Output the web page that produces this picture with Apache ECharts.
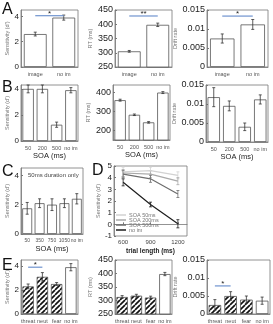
<!DOCTYPE html>
<html>
<head>
<meta charset="utf-8">
<script src="https://cdn.jsdelivr.net/npm/echarts@6/dist/echarts.min.js"></script>
<style>
  html, body { margin: 0; padding: 0; background: #fff; }
  #chart { width: 273px; height: 324px; }
</style>
</head>
<body>
<div id="chart"></div>
<script>
// ---- data ----
const catsA = ["image", "no im"];
const sensA = [2.6, 3.9];
const sensAErr = [0.15, 0.2];
const rtA = [305, 398];
const rtAErr = [3, 6];
const driftA = [0.0075, 0.0112];
const driftAErr = [0.0012, 0.0013];

const catsB = ["50", "200", "500", "no im"];
const sensB = [4.0, 4.0, 1.25, 3.9];
const sensBErr = [0.3, 0.3, 0.2, 0.2];
const rtB = [360, 283, 243, 400];
const rtBErr = [5, 4, 4, 5];
const driftB = [0.0118, 0.0095, 0.004, 0.0112];
const driftBErr = [0.0025, 0.0013, 0.001, 0.0012];

const catsC = ["50", "350", "750", "1050", "no im"];
const sensC = [1.75, 2.1, 2.0, 2.1, 2.4];
const sensCErr = [0.4, 0.3, 0.4, 0.3, 0.35];

const trialLen = [600, 900, 1200];
const dSoa50 = [4.5, 4.6, 4.2];
const dSoa200 = [4.4, 4.3, 3.7];
const dSoa500 = [4.3, 3.9, 2.6];
const dNoIm = [3.6, 1.7, 0.05];
const dSoa50Err = [0.4, 0.3, 0.3];
const dSoa200Err = [0.3, 0.3, 0.3];
const dSoa500Err = [0.3, 0.3, 0.3];
const dNoImErr = [0.3, 0.2, 0.35];

const catsE = ["threat", "neut", "fear", "no im"];
const sensE = [2.3, 3.1, 2.5, 3.9];
const sensEErr = [0.2, 0.35, 0.12, 0.3];
const rtE = [313, 318, 311, 398];
const rtEErr = [5, 5, 5, 6];
const driftE = [0.0025, 0.005, 0.004, 0.0037];
const driftEErr = [0.0015, 0.0012, 0.001, 0.001];

const sensTicks = [0, 2, 4];
const rtTicks = [250, 300, 350, 400, 450];
const rtTicksB = [200, 300, 400];
const driftTicks = [0, 0.005, 0.01, 0.015];
const dTicks = [-1, 0, 1, 2, 3, 4, 5];
const trialTicks = [600, 900, 1200];

// ---- helpers ----
const FONT = "Liberation Sans, Arial, sans-serif";
const chart = echarts.init(document.getElementById("chart"));

// diagonal hatch pattern
function hatch() {
  const s = 5;
  const c = document.createElement("canvas");
  c.width = s; c.height = s;
  const ctx = c.getContext("2d");
  ctx.fillStyle = "#fff";
  ctx.fillRect(0, 0, s, s);
  ctx.strokeStyle = "#111";
  ctx.lineWidth = 1.7;
  [-s, 0, s].forEach(o => {
    ctx.beginPath();
    ctx.moveTo(o, s);
    ctx.lineTo(o + s, 0);
    ctx.stroke();
  });
  return { image: c, repeat: "repeat" };
}
const hatchFill = hatch();

const grids = [];
const xAxes = [];
const yAxes = [];
const series = [];

function errRender(color) {
  return function (params, api) {
    const x = api.value(0), y = api.value(1), e = api.value(2);
    const t = api.coord([x, y + e]);
    const b = api.coord([x, y - e]);
    const st = { stroke: color, lineWidth: 0.8 };
    return {
      type: "group",
      children: [
        { type: "line", shape: { x1: t[0], y1: t[1], x2: b[0], y2: b[1] }, style: st },
        { type: "line", shape: { x1: t[0] - 1.5, y1: t[1], x2: t[0] + 1.5, y2: t[1] }, style: st },
        { type: "line", shape: { x1: b[0] - 1.5, y1: b[1], x2: b[0] + 1.5, y2: b[1] }, style: st }
      ]
    };
  };
}

function sigRender(label) {
  return function (params, api) {
    const p1 = api.coord([api.value(0), api.value(2)]);
    const p2 = api.coord([api.value(1), api.value(2)]);
    return {
      type: "group",
      children: [
        { type: "line", shape: { x1: p1[0], y1: p1[1], x2: p2[0], y2: p2[1] },
          style: { stroke: "#6f93cf", lineWidth: 1.2 } },
        { type: "text", style: { text: label, x: (p1[0] + p2[0]) / 2, y: p1[1] + 2,
          align: "center", verticalAlign: "bottom", fontSize: 8, fill: "#222", font: "8px " + FONT } }
      ]
    };
  };
}

function yAxisDef(gi, min, max, ticks, name, labelSize) {
  return {
    gridIndex: gi, type: "value", min: min, max: max,
    name: name, nameLocation: "middle", nameGap: labelSize > 8 ? 22 : 10,
    nameTextStyle: { fontSize: 5.5, color: "#777", fontFamily: FONT },
    axisLine: { show: true, lineStyle: { color: "#777", width: 0.8 } },
    axisTick: { show: true, inside: true, length: 2, customValues: ticks, lineStyle: { color: "#777" } },
    axisLabel: { customValues: ticks, fontSize: labelSize, color: "#222", margin: 2, fontFamily: FONT },
    splitLine: { show: false }
  };
}

function barPanel(gi, box, cats, vals, errs, yMin, yMax, ticks, yName, opts) {
  opts = opts || {};
  grids.push(Object.assign({ show: true, borderColor: "#777", borderWidth: 0.8, backgroundColor: "transparent" }, box));
  xAxes.push({
    gridIndex: gi, type: "category", data: cats,
    name: opts.xName || "", nameLocation: "middle", nameGap: 11,
    nameTextStyle: { fontSize: 7.5, color: "#222", fontFamily: FONT },
    axisLine: { lineStyle: { color: "#777", width: 0.8 } },
    axisTick: { show: false },
    axisLabel: { fontSize: opts.xLabelSize || 5.5, color: "#555", margin: 4, interval: 0, fontFamily: FONT }
  });
  yAxes.push(yAxisDef(gi, yMin, yMax, ticks, yName, opts.labelSize || 8));
  series.push({
    type: "bar", xAxisIndex: gi, yAxisIndex: gi, barCategoryGap: "20%",
    data: vals.map((v, i) => ({
      value: v,
      itemStyle: { color: (opts.hatched && i < vals.length - 1) ? hatchFill : "#fff" }
    })),
    itemStyle: { borderColor: "#555", borderWidth: 0.8 },
    silent: true
  });
  series.push({
    type: "custom", xAxisIndex: gi, yAxisIndex: gi,
    renderItem: errRender("#333"),
    encode: { x: 0, y: 1 },
    data: vals.map((v, i) => [i, v, errs[i]]),
    silent: true, z: 5
  });
  if (opts.sig) {
    series.push({
      type: "custom", xAxisIndex: gi, yAxisIndex: gi,
      renderItem: sigRender(opts.sig.label),
      encode: { x: [0, 1], y: 2 },
      data: [[opts.sig.from, opts.sig.to, opts.sig.y]],
      silent: true, z: 6
    });
  }
}

// ---- row A ----
barPanel(0, { left: 21, top: 10, width: 57, height: 57 }, catsA, sensA, sensAErr, 0, 4.5, sensTicks,
  "Sensitivity (d')", { sig: { from: 0, to: 1, y: 4.05, label: "*" } });
barPanel(1, { left: 115, top: 10, width: 57, height: 57 }, catsA, rtA, rtAErr, 250, 450, rtTicks,
  "RT (ms)", { labelSize: 9, sig: { from: 0, to: 1, y: 429, label: "**" } });
barPanel(2, { left: 207, top: 10, width: 61, height: 57 }, catsA, driftA, driftAErr, 0, 0.015, driftTicks,
  "Drift rate", { labelSize: 9, sig: { from: 0, to: 1, y: 0.0134, label: "*" } });

// ---- row B ----
barPanel(3, { left: 21, top: 85, width: 57, height: 56 }, catsB, sensB, sensBErr, 0, 4.3, sensTicks,
  "Sensitivity (d')", { xName: "SOA (ms)" });
barPanel(4, { left: 113, top: 85, width: 57, height: 55 }, catsB, rtB, rtBErr, 150, 440, rtTicksB,
  "RT (ms)", { labelSize: 9, xName: "SOA (ms)" });
barPanel(5, { left: 206, top: 85, width: 62, height: 57 }, catsB, driftB, driftBErr, 0, 0.015, driftTicks,
  "Drift rate", { labelSize: 9, xName: "SOA (ms)" });

// ---- row C ----
barPanel(6, { left: 21, top: 168, width: 62, height: 66 }, catsC, sensC, sensCErr, 0, 4.5, sensTicks,
  "Sensitivity (d')", { xName: "SOA (ms)", xLabelSize: 5 });

// ---- panel D (lines) ----
grids.push({ left: 114, top: 166, width: 73, height: 70, show: true, borderColor: "#777", borderWidth: 0.8 });
xAxes.push({
  gridIndex: 7, type: "value", min: 500, max: 1300,
  name: "trial length (ms)", nameLocation: "middle", nameGap: 12,
  nameTextStyle: { fontSize: 6.5, color: "#222", fontWeight: "bold", fontFamily: FONT },
  axisLine: { lineStyle: { color: "#777", width: 0.8 } },
  axisTick: { show: true, inside: true, length: 2, customValues: trialTicks },
  axisLabel: { customValues: trialTicks, fontSize: 6, color: "#444", margin: 3, fontFamily: FONT,
    formatter: v => String(v) },
  splitLine: { show: false }
});
yAxes.push(yAxisDef(7, -1, 5, dTicks, "Sensitivity (d')", 8));

const dSeries = [
  { name: "SOA 50ms", vals: dSoa50, errs: dSoa50Err, color: "#d2d2d2" },
  { name: "SOA 200ms", vals: dSoa200, errs: dSoa200Err, color: "#a9a9a9" },
  { name: "SOA 500ms", vals: dSoa500, errs: dSoa500Err, color: "#6e6e6e" },
  { name: "no im", vals: dNoIm, errs: dNoImErr, color: "#1e1e1e" }
];
dSeries.forEach(s => {
  series.push({
    name: s.name, type: "line", xAxisIndex: 7, yAxisIndex: 7,
    data: trialLen.map((t, i) => [t, s.vals[i]]),
    symbol: "none", lineStyle: { color: s.color, width: 1.2 }, itemStyle: { color: s.color },
    silent: true
  });
  series.push({
    type: "custom", xAxisIndex: 7, yAxisIndex: 7,
    renderItem: errRender(s.color), encode: { x: 0, y: 1 },
    data: trialLen.map((t, i) => [t, s.vals[i], s.errs[i]]),
    silent: true
  });
});

// ---- row E ----
barPanel(8, { left: 21, top: 260, width: 57, height: 56 }, catsE, sensE, sensEErr, 0, 4.5, sensTicks,
  "Sensitivity (d')", { hatched: true, sig: { from: 0, to: 1, y: 3.9, label: "*" } });
barPanel(9, { left: 115, top: 260, width: 57, height: 56 }, catsE, rtE, rtEErr, 250, 450, rtTicks,
  "RT (ms)", { labelSize: 9, hatched: true });
barPanel(10, { left: 207, top: 260, width: 63, height: 56 }, catsE, driftE, driftEErr, 0, 0.015, driftTicks,
  "Drift rate", { labelSize: 9, hatched: true, sig: { from: 0, to: 1, y: 0.0078, label: "*" } });

function panelLabel(t, x, y) {
  return { type: "text", left: x, top: y, style: { text: t, font: "16px " + FONT, fill: "#111" } };
}

chart.setOption({
  animation: false,
  backgroundColor: "#fff",
  grid: grids,
  xAxis: xAxes,
  yAxis: yAxes,
  legend: {
    data: dSeries.map(s => s.name),
    orient: "vertical", left: 116, top: 212,
    itemWidth: 10, itemHeight: 1.5, itemGap: -1, padding: 0,
    icon: "rect",
    textStyle: { fontSize: 5.5, color: "#777", fontFamily: FONT, padding: [0, 0, 0, -2] },
    selectedMode: false
  },
  graphic: [
    panelLabel("A", 2, 2),
    panelLabel("B", 2, 80),
    panelLabel("C", 2, 164),
    panelLabel("D", 92, 163),
    panelLabel("E", 2, 258),
    { type: "text", left: 28, top: 172,
      style: { text: "50ms duration only", font: "6px " + FONT, fill: "#444" } }
  ],
  series: series
});
</script>
</body>
</html>
